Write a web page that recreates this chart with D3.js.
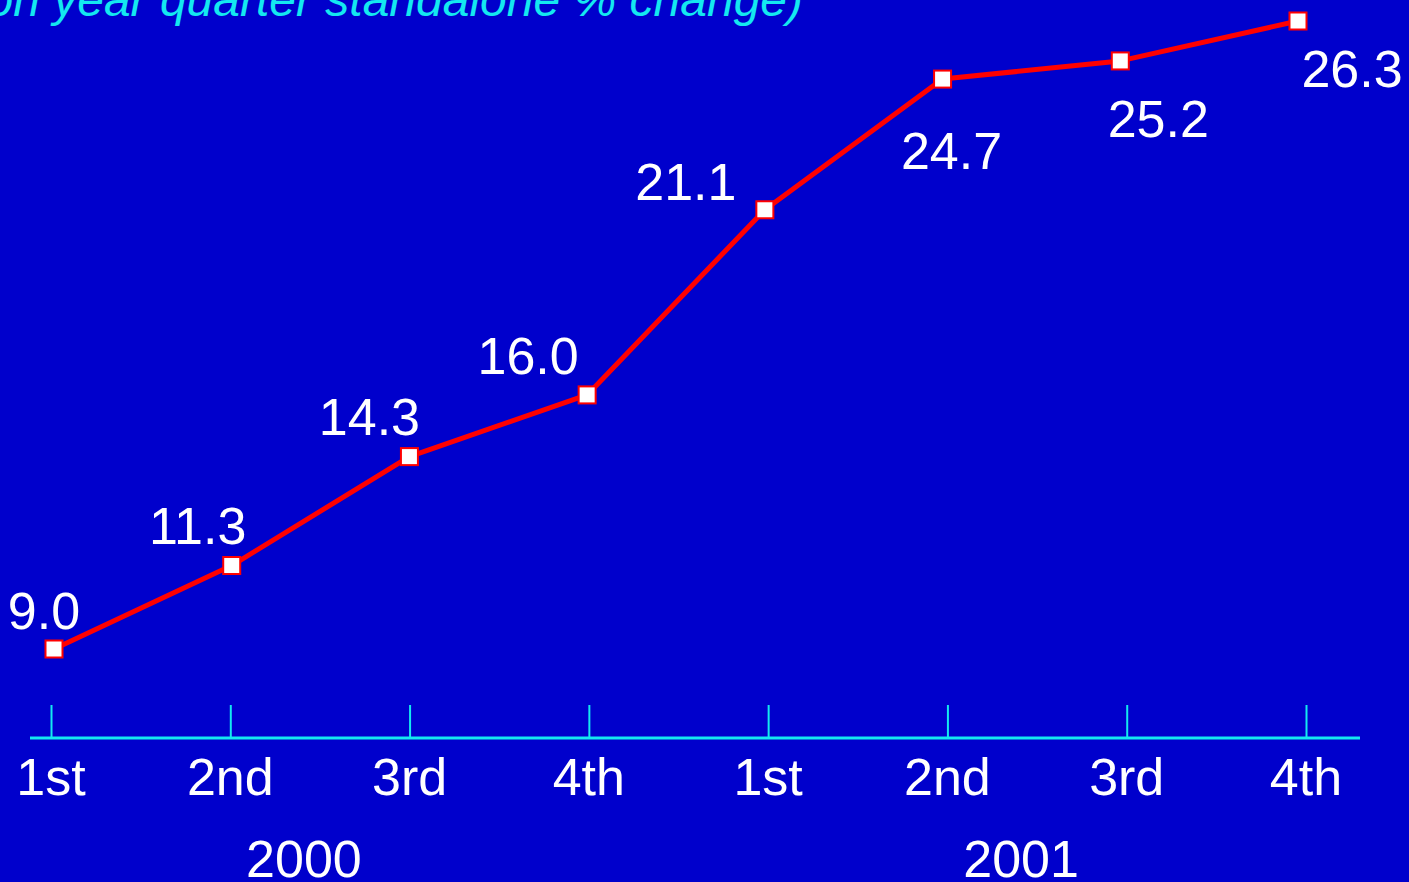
<!DOCTYPE html>
<html>
<head>
<meta charset="utf-8">
<script src="https://cdn.jsdelivr.net/npm/d3@7"></script>
<style>
  html, body { margin: 0; padding: 0; background: #0000CC; overflow: hidden; }
  svg { display: block; }
  text { font-family: "Liberation Sans", Arial, sans-serif; }
</style>
</head>
<body>
<script>
// Quarterly growth series (year on year, standalone, % change)
const quarters = ["1st", "2nd", "3rd", "4th", "1st", "2nd", "3rd", "4th"];
const years = ["2000", "2001"];
const values = [9.0, 11.3, 14.3, 16.0, 21.1, 24.7, 25.2, 26.3];
const subtitle = "(year on year quarter standalone % change)";

// Value-label nudges relative to each marker (layout only)
const labelDx = [-10, -34, -40, -59, -79, 9, 38, 54];
const labelDy = [-20, -22, -22, -21, -10, 90, 76, 66];

const W = 1409, H = 882;
const svg = d3.select("body").append("svg").attr("width", W).attr("height", H);

svg.append("rect").attr("width", W).attr("height", H).attr("fill", "#0000CC");

const idx = d3.range(values.length);
const x = d3.scalePoint().domain(idx).range([54, 1298]);
const xTick = d3.scalePoint().domain(idx).range([51, 1306]);
const y = d3.scaleLinear().domain([9, 26.3]).range([649, 21]);

const cyan = "#14E8F0";

// Subtitle (its top runs off the canvas)
svg.append("text")
  .attr("x", 803).attr("y", 16)
  .attr("text-anchor", "end")
  .attr("font-size", 48)
  .attr("font-style", "italic")
  .attr("fill", cyan)
  .text(subtitle);

// Category axis
const axisY = 738;
const axisG = svg.append("g").attr("transform", `translate(0,${axisY})`);
axisG.call(d3.axisTop(xTick).tickSize(33).tickFormat(""));
axisG.select(".domain").remove();
axisG.selectAll(".tick line").attr("stroke", cyan).attr("stroke-width", 2);
axisG.append("line")
  .attr("x1", 30).attr("x2", 1360).attr("y1", 0).attr("y2", 0)
  .attr("stroke", cyan).attr("stroke-width", 3);

svg.append("g").selectAll("text")
  .data(quarters)
  .join("text")
  .attr("x", (d, i) => xTick(i))
  .attr("y", 795)
  .attr("text-anchor", "middle")
  .attr("font-size", 52)
  .attr("fill", "#FFFFFF")
  .text(d => d);

// Year labels under each group of four quarters
svg.append("g").selectAll("text")
  .data(years)
  .join("text")
  .attr("x", (d, i) => (xTick(i * 4) + xTick(i * 4 + 3)) / 2 - 16)
  .attr("y", 877)
  .attr("text-anchor", "middle")
  .attr("font-size", 52)
  .attr("fill", "#FFFFFF")
  .text(d => d);

// Series line
const line = d3.line().x((d, i) => x(i)).y(d => y(d));
svg.append("path")
  .datum(values)
  .attr("d", line)
  .attr("fill", "none")
  .attr("stroke", "#FF0000")
  .attr("stroke-width", 5)
  .attr("stroke-linejoin", "round");

// Square markers
const ms = 17;
svg.append("g").selectAll("rect")
  .data(values)
  .join("rect")
  .attr("x", (d, i) => x(i) - ms / 2)
  .attr("y", d => y(d) - ms / 2)
  .attr("width", ms).attr("height", ms)
  .attr("fill", "#FFFFFF")
  .attr("stroke", "#FF0000")
  .attr("stroke-width", 2);

// Value labels
svg.append("g").selectAll("text")
  .data(values)
  .join("text")
  .attr("x", (d, i) => x(i) + labelDx[i])
  .attr("y", (d, i) => y(d) + labelDy[i])
  .attr("text-anchor", "middle")
  .attr("font-size", 52)
  .attr("fill", "#FFFFFF")
  .text(d => d.toFixed(1));
</script>
</body>
</html>
